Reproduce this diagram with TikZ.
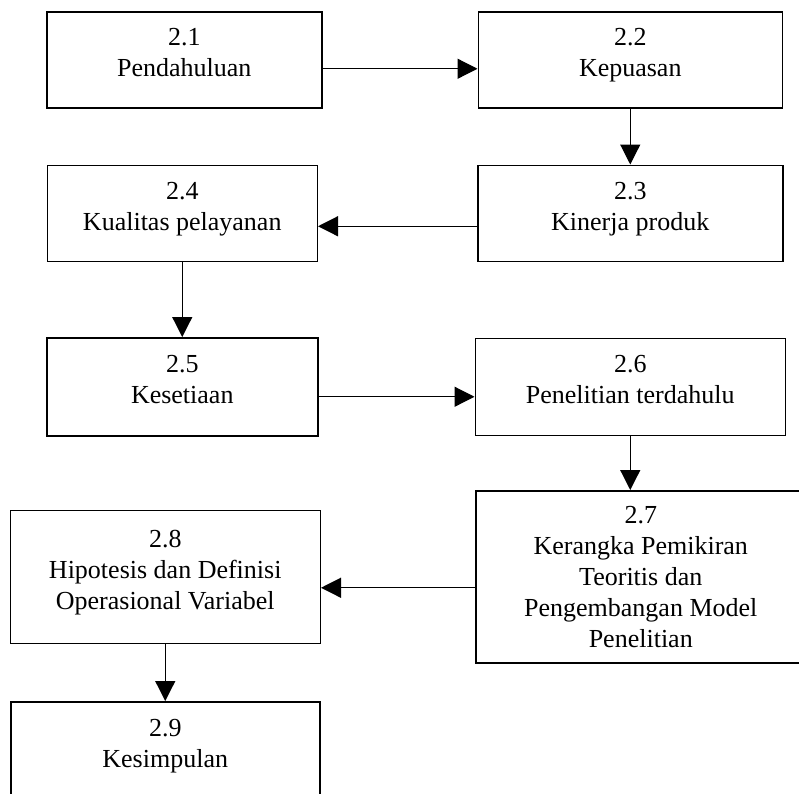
\documentclass[tikz,border=0pt]{standalone}
\usepackage{fontspec}
\setmainfont{Liberation Serif}
\usepackage{tikz}
\usetikzlibrary{positioning, arrows.meta}
\definecolor{ink}{RGB}{0,0,0}
\tikzset{
  bab/.style={
    rectangle, draw=ink, line width=1.5pt, align=center, fill=white,
    inner sep=2pt, text depth=14pt, font=\fontsize{26}{31}\selectfont
  },
  flow/.style={draw=ink, line width=1.2pt, -{Triangle[length=20pt, width=20pt]}},
}

\begin{document}
\begin{tikzpicture}[x=1pt, y=-1pt]
  \useasboundingbox (0,0) rectangle (799,793);
  \clip (0,0) rectangle (799,793);
  \fill[white] (0,0) rectangle (799,793);

  \node[bab, anchor=north west, minimum width=275pt, minimum height=96pt] (pendahuluan) at (46,11) {2.1\\Pendahuluan};
  \node[bab, right=155pt of pendahuluan, minimum width=304pt, minimum height=96pt] (kepuasan) {2.2\\Kepuasan};
  \node[bab, below=56pt of kepuasan, minimum width=305pt, minimum height=96pt] (kinerja) {2.3\\Kinerja produk};
  \node[bab, left=159pt of kinerja, minimum width=270pt, minimum height=96pt] (kualitas) {2.4\\Kualitas pelayanan};
  \node[bab, below=75pt of kualitas, minimum width=271pt, minimum height=98pt] (kesetiaan) {2.5\\Kesetiaan};
  \node[bab, right=156pt of kesetiaan, minimum width=310pt, minimum height=97pt] (penelitian) {2.6\\Penelitian terdahulu};
  \node[bab, anchor=north west, minimum width=330pt, minimum height=172pt, text depth=0pt] (kerangka) at (475,490)
    {2.7\\Kerangka Pemikiran\\Teoritis dan\\Pengembangan Model\\Penelitian};
  \node[bab, left=154pt of kerangka, minimum width=310pt, minimum height=133pt] (hipotesis) {2.8\\Hipotesis dan Definisi\\Operasional Variabel};
  \node[bab, below=57pt of hipotesis, minimum width=309pt, minimum height=98pt] (kesimpulan) {2.9\\Kesimpulan};

  \draw[flow] ([yshift=-9pt]pendahuluan.east) -- ([yshift=-9pt]kepuasan.west);
  \draw[flow] (kepuasan) -- (kinerja);
  \draw[flow] ([yshift=-13pt]kinerja.west) -- ([yshift=-13pt]kualitas.east);
  \draw[flow] (kualitas) -- (kesetiaan);
  \draw[flow] ([yshift=-10pt]kesetiaan.east) -- ([yshift=-10pt]penelitian.west);
  \draw[flow] (penelitian.south) -- (penelitian.south |- kerangka.north);
  \coordinate (k7) at ([yshift=-11pt]kerangka.west);
  \draw[flow] (k7) -- (k7 -| hipotesis.east);
  \draw[flow] (hipotesis) -- (kesimpulan);
\end{tikzpicture}
\end{document}
